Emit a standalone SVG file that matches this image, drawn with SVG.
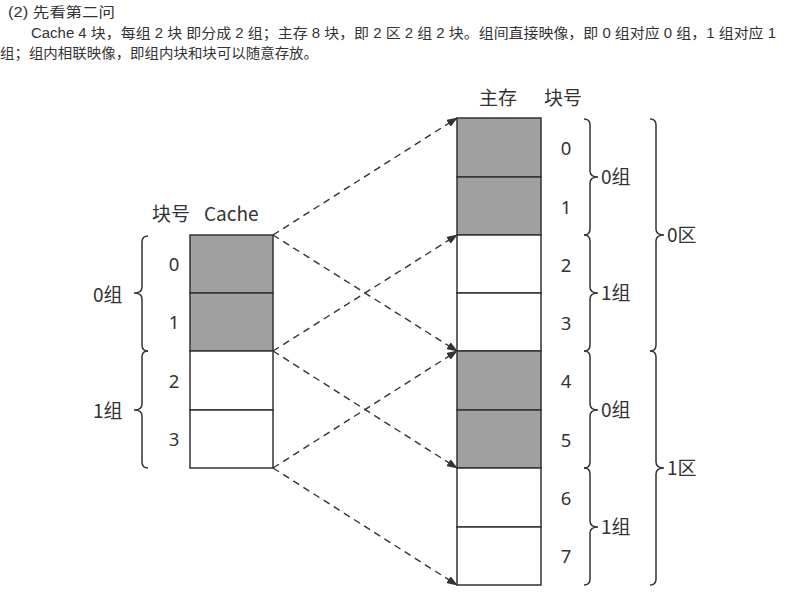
<svg xmlns="http://www.w3.org/2000/svg" width="788" height="613" viewBox="0 0 788 613">
<style>
.hd{font-family:"Liberation Sans","Noto Sans CJK SC",sans-serif;font-size:14px;fill:#333}
.t{font-family:"Noto Sans CJK SC","Noto Sans",sans-serif;font-size:19px;fill:#333}
.n{font-family:"Noto Sans","Noto Sans CJK SC",sans-serif;font-size:18.5px;fill:#333;text-anchor:middle}
.g{fill:#a0a0a0;stroke:#333;stroke-width:1.5}
.w{fill:#fff;stroke:#333;stroke-width:1.5}
.br{fill:none;stroke:#333;stroke-width:1.5}
.c line{stroke:#333;stroke-width:1.4;stroke-dasharray:7 5}
</style>
<defs>
<marker id="ah" markerWidth="11" markerHeight="8" refX="10" refY="4" orient="auto" markerUnits="userSpaceOnUse">
<path d="M0,0 L11,4 L0,8 Z" fill="#333"/>
</marker>
</defs>
<rect width="788" height="613" fill="#fff"/>
<g id="header">
<text class="hd" x="8" y="17" textLength="107" lengthAdjust="spacingAndGlyphs">(2)  先看第二问</text>
<text class="hd" x="31" y="38" textLength="745" lengthAdjust="spacingAndGlyphs">Cache 4 块，每组 2 块 即分成 2 组；主存 8 块，即 2 区 2 组 2 块。组间直接映像，即 0 组对应 0 组，1 组对应 1</text>
<text class="hd" x="0" y="58" textLength="318" lengthAdjust="spacingAndGlyphs">组；组内相联映像，即组内块和块可以随意存放。</text>
</g>
<g id="cache">
<text class="t" x="152" y="221">块号</text>
<text class="t" x="204" y="221">Cache</text>
<rect class="g" x="190" y="235" width="83" height="58"/>
<rect class="g" x="190" y="293" width="83" height="58"/>
<rect class="w" x="190" y="351" width="83" height="59"/>
<rect class="w" x="190" y="410" width="83" height="58"/>
<text class="n" x="174" y="271">0</text>
<text class="n" x="174" y="329">1</text>
<text class="n" x="174" y="388">2</text>
<text class="n" x="174" y="446">3</text>
<path class="br" d="M148,236 Q142,236 142,242 L142,287 Q142,293 134,293 Q142,293 142,299 L142,345 Q142,351 148,351"/>
<path class="br" d="M148,351 Q142,351 142,357 L142,404 Q142,410 134,410 Q142,410 142,416 L142,462 Q142,468 148,468"/>
<text class="t" x="93" y="302">0组</text>
<text class="t" x="93" y="418">1组</text>
</g>
<g id="memory">
<text class="t" x="479" y="105">主存</text>
<text class="t" x="544" y="105">块号</text>
<rect class="g" x="457" y="118" width="84" height="59"/>
<rect class="g" x="457" y="177" width="84" height="58"/>
<rect class="w" x="457" y="235" width="84" height="58"/>
<rect class="w" x="457" y="293" width="84" height="58"/>
<rect class="g" x="457" y="351" width="84" height="59"/>
<rect class="g" x="457" y="410" width="84" height="58"/>
<rect class="w" x="457" y="468" width="84" height="59"/>
<rect class="w" x="457" y="527" width="84" height="58"/>
<text class="n" x="566" y="155">0</text>
<text class="n" x="566" y="214">1</text>
<text class="n" x="566" y="272">2</text>
<text class="n" x="566" y="330">3</text>
<text class="n" x="566" y="388">4</text>
<text class="n" x="566" y="447">5</text>
<text class="n" x="566" y="505">6</text>
<text class="n" x="566" y="563">7</text>
<path class="br" d="M584,119 Q590,119 590,125 L590,171 Q590,177 598,177 Q590,177 590,183 L590,229 Q590,235 584,235"/>
<path class="br" d="M584,235 Q590,235 590,241 L590,287 Q590,293 598,293 Q590,293 590,299 L590,345 Q590,351 584,351"/>
<path class="br" d="M584,351 Q590,351 590,357 L590,404 Q590,410 598,410 Q590,410 590,416 L590,462 Q590,468 584,468"/>
<path class="br" d="M584,468 Q590,468 590,474 L590,521 Q590,527 598,527 Q590,527 590,533 L590,579 Q590,585 584,585"/>
<text class="t" x="601" y="184">0组</text>
<text class="t" x="601" y="300">1组</text>
<text class="t" x="601" y="417">0组</text>
<text class="t" x="601" y="534">1组</text>
<path class="br" d="M650,119 Q656,119 656,125 L656,229 Q656,235 664,235 Q656,235 656,241 L656,345 Q656,351 650,351"/>
<path class="br" d="M650,351 Q656,351 656,357 L656,462 Q656,468 664,468 Q656,468 656,474 L656,579 Q656,585 650,585"/>
<text class="t" x="667" y="242">0区</text>
<text class="t" x="667" y="475">1区</text>
</g>
<g id="connectors" class="c">
<line x1="273" y1="235" x2="457" y2="118" marker-end="url(#ah)"/>
<line x1="273" y1="235" x2="457" y2="351" marker-end="url(#ah)"/>
<line x1="273" y1="351" x2="457" y2="235" marker-end="url(#ah)"/>
<line x1="273" y1="351" x2="457" y2="468" marker-end="url(#ah)"/>
<line x1="273" y1="468" x2="457" y2="351" marker-end="url(#ah)"/>
<line x1="273" y1="468" x2="457" y2="585" marker-end="url(#ah)"/>
</g>
</svg>
